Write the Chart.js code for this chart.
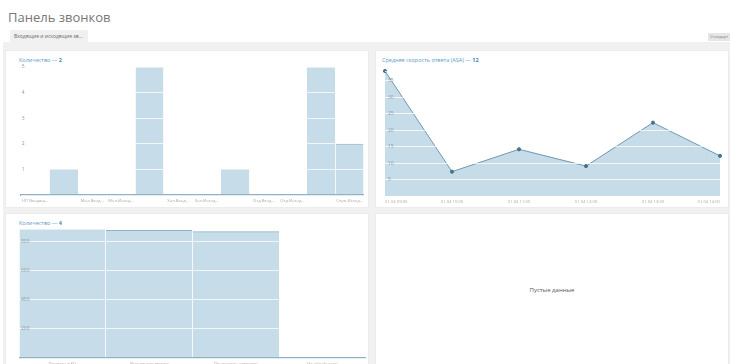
<!DOCTYPE html>
<html lang="ru">
<head>
<meta charset="utf-8">
<title>Панель звонков</title>
<script src="https://cdn.jsdelivr.net/npm/chart.js@4.4.1/dist/chart.umd.min.js"></script>
<style>
  html, body { margin: 0; padding: 0; width: 730px; height: 364px; overflow: hidden; background: #fff; font-family: "Open Sans", "Noto Sans", sans-serif; }
  #head { position: absolute; left: 8px; top: 8px; font-size: 13px; color: #777; }
  #tab { position: absolute; left: 10px; top: 30px; width: 78px; height: 12px; background: #f0f0f0; font-size: 5px; line-height: 12px; color: #666; text-indent: 4px; white-space: nowrap; }
  #btn { position: absolute; left: 708px; top: 33px; width: 24px; height: 8px; background: #e6e6e6; font-size: 4px; line-height: 8px; color: #777; text-indent: 2px; }
  #band { position: absolute; left: 3px; top: 42px; right: 0; bottom: 0; background: #f1f1f1; }
  .panel { position: absolute; background: #fff; border: 1px solid #ececec; box-sizing: border-box; }
  .ttl { position: absolute; font-size: 5.5px; color: #5b9bc9; white-space: nowrap; }
  .ttl b { color: #4a88bb; }
  .box { position: absolute; }
  #empty { position: absolute; left: 376px; top: 214px; width: 352px; height: 150px; text-align: center; line-height: 152px; font-size: 6px; color: #555; }
</style>
</head>
<body>
<div id="head">Панель звонков</div>
<div id="tab">Входящие и исходящие зв...</div>
<div id="band"></div>
<div id="btn">Стандарт</div>

<div class="panel" style="left:5px;top:50px;width:364px;height:158px"></div>
<div class="panel" style="left:375px;top:50px;width:354px;height:158px"></div>
<div class="panel" style="left:5px;top:213px;width:364px;height:160px"></div>
<div class="panel" style="left:375px;top:213px;width:354px;height:160px"></div>

<div class="ttl" style="left:19px;top:56px">Количество — <b>2</b></div>
<div class="ttl" style="left:382px;top:56px">Средняя скорость ответа (ASA) — <b>12</b></div>
<div class="ttl" style="left:19px;top:219px">Количество — <b>4</b></div>
<div id="empty">Пустые данные</div>

<div class="box" style="left:19px;top:62px;width:347px;height:143px"><canvas id="countChart"></canvas></div>
<div class="box" style="left:380px;top:65px;width:345px;height:141px"><canvas id="asaChart"></canvas></div>
<div class="box" style="left:19px;top:224px;width:347px;height:144px"><canvas id="totalChart"></canvas></div>

<script>
// calls per group
const groupLabels = ["НП Входящ...","НП Исходящ...","Мол.Вход...","Мол.Исход...","Мол.Проп...","Хол.Вход...","Хол.Исход...","Хол.Проп...","Отд.Вход...","Отд.Исход...","Служ.Вход...","Служ.Исход..."];
const groupCounts = [0, 1, 0, 0, 5, 0, 0, 1, 0, 0, 5, 2];
const groupShown = [0, 2, 3, 5, 6, 8, 9, 11];

// average speed of answer
const asaLabels = ["01.04 09:00","01.04 10:00","01.04 11:00","01.04 12:00","01.04 13:00","01.04 14:00"];
const asaValues = [38, 7.4, 14.2, 9.1, 22.3, 12.2];

// totals
const totalLabels = ["Принято в КЦ","Исходящие звонки","Пропущено отвечено","Не обработано"];
const totalValues = [884, 875, 866, 0];

const fillBlue = "#c6dce8";
const edgeBlue = "#8fb2c6";
const lineBlue = "#6f97af";
const dotBlue = "#46738f";

Chart.defaults.font.family = "'Open Sans', 'Noto Sans', sans-serif";
Chart.defaults.color = "#999";

function yAxis(maxVal, step, pad) {
  return {
    min: 0,
    max: maxVal,
    border: { display: false },
    grid: { color: "rgba(255,255,255,0.75)", drawTicks: false, z: 1 },
    ticks: {
      z: 1,
      stepSize: step,
      mirror: true,
      padding: pad,
      font: { size: 5 },
      color: "#8f9aa0",
      callback: v => (v === 0 || v % step !== 0 ? "" : v)
    },
    afterFit: s => { s.width = 0; }
  };
}

function xAxis(offsetGrid) {
  return {
    offset: offsetGrid,
    border: { color: edgeBlue, width: 2, z: 1 },
    grid: { color: "rgba(255,255,255,0.75)", drawTicks: false, z: 1, display: offsetGrid },
    ticks: { font: { size: 4.2 }, color: "#aaa", maxRotation: 0, padding: 3, autoSkip: false },
    afterFit: s => { s.height = 10; }
  };
}

const base = {
  animation: false,
  responsive: true,
  maintainAspectRatio: false,
  plugins: { legend: { display: false }, tooltip: { enabled: false } },
  layout: { padding: { top: 5 } }
};

// BAR - groups
const countX = xAxis(true);
countX.ticks.callback = function (v, i) {
  return groupShown.includes(i) ? this.getLabelForValue(v) : "";
};
new Chart(document.getElementById("countChart"), {
  type: "bar",
  data: {
    labels: groupLabels,
    datasets: [{
      data: groupCounts,
      backgroundColor: fillBlue,
      borderColor: edgeBlue,
      borderWidth: { top: 1 },
      borderSkipped: "bottom",
      categoryPercentage: 1,
      barPercentage: 1
    }]
  },
  options: Object.assign({}, base, {
    scales: { x: countX, y: yAxis(Math.max(...groupCounts), 1, 1) }
  })
});

// LINE - ASA
const asaX = xAxis(false);
asaX.border = { display: false };
asaX.ticks.align = "inner";
new Chart(document.getElementById("asaChart"), {
  type: "line",
  data: {
    labels: asaLabels,
    datasets: [{
      data: asaValues,
      fill: "origin",
      backgroundColor: fillBlue,
      borderColor: lineBlue,
      borderWidth: 1,
      tension: 0,
      pointRadius: 1.6,
      pointBackgroundColor: dotBlue,
      pointBorderColor: dotBlue,
      clip: 4
    }]
  },
  options: Object.assign({}, base, {
    layout: { padding: { top: 5, left: 3, right: 3 } },
    scales: { x: asaX, y: yAxis(Math.max(...asaValues), 5, 3) }
  })
});

// BAR - totals
new Chart(document.getElementById("totalChart"), {
  type: "bar",
  data: {
    labels: totalLabels,
    datasets: [{
      data: totalValues,
      backgroundColor: fillBlue,
      borderColor: edgeBlue,
      borderWidth: { top: 1 },
      borderSkipped: "bottom",
      categoryPercentage: 1,
      barPercentage: 1
    }]
  },
  options: Object.assign({}, base, {
    scales: { x: xAxis(true), y: yAxis(Math.max(...totalValues), 200, 2) }
  })
});
</script>
</body>
</html>
